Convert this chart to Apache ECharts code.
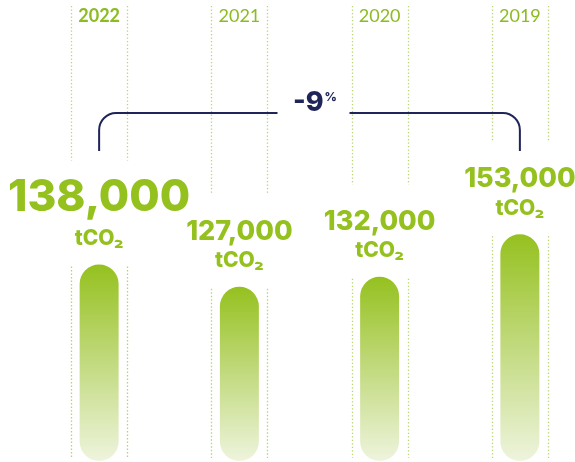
<!DOCTYPE html>
<html>
<head>
<meta charset="utf-8">
<script src="https://cdn.jsdelivr.net/npm/echarts@6/dist/echarts.min.js"></script>
<style>
  html, body { margin: 0; padding: 0; background: #ffffff; }
  #chart { width: 575px; height: 462px; }
</style>
</head>
<body>
<div id="chart"></div>
<script>
// Annual emissions, tonnes of CO2
const years = ['2022', '2021', '2020', '2019'];
const emissions = [138000, 127000, 132000, 153000];
const unitText = 'tCO₂';
// Change between the first and last year shown
const changeValue = '-9';
const changeUnit = '%';

const GREEN = '#95c11f';
const NAVY = '#1f2459';
const DOT = '#b7d56c';
const FONT = 'Inter, Lato, "Noto Sans", sans-serif';
const YEAR_FONT = 'Lato, Inter, sans-serif';

const Y_MIN = 41000;
const Y_MAX = 241000;

const chart = echarts.init(document.getElementById('chart'), null, { renderer: 'canvas' });

const fmt = v => v.toLocaleString('en-US');

// Dotted guide lines on both sides of every column
function renderGuides(params, api) {
  const i = api.value(0);
  const p = api.coord([i, api.value(1)]);
  const x = p[0];
  const barTop = p[1];
  const gap = i === 0 ? 104 : 92;
  const half = 28;
  const children = [];
  [-half, half].forEach(dx => {
    const xx = Math.round(x + dx) + 0.5;
    children.push({
      type: 'line',
      shape: { x1: xx, y1: 6, x2: xx, y2: barTop - gap },
      style: { stroke: DOT, lineWidth: 1.3, lineDash: [1.3, 2.2] },
      silent: true
    });
    children.push({
      type: 'line',
      shape: { x1: xx, y1: barTop + 2, x2: xx, y2: 458 },
      style: { stroke: DOT, lineWidth: 1.3, lineDash: [1.3, 2.2] },
      silent: true
    });
  });
  return { type: 'group', children };
}

// Bracket joining the first and last column, with the change label
function renderBracket(params, api) {
  const x0 = api.coord([api.value(0), Y_MIN])[0];
  const x1 = api.coord([api.value(1), Y_MIN])[0];
  const yTop = 113;
  const yEnd = 151;
  const r = 17;
  const k = r * 0.55;
  const mid = (x0 + x1) / 2;
  const gapL = mid - 32;
  const gapR = mid + 40;
  const d =
    'M' + x0 + ' ' + yEnd + ' L' + x0 + ' ' + (yTop + r) +
    ' C' + x0 + ' ' + (yTop + r - k) + ' ' + (x0 + r - k) + ' ' + yTop + ' ' + (x0 + r) + ' ' + yTop +
    ' L' + gapL + ' ' + yTop +
    ' M' + gapR + ' ' + yTop + ' L' + (x1 - r) + ' ' + yTop +
    ' C' + (x1 - r + k) + ' ' + yTop + ' ' + x1 + ' ' + (yTop + r - k) + ' ' + x1 + ' ' + (yTop + r) +
    ' L' + x1 + ' ' + yEnd;
  return {
    type: 'group',
    children: [
      {
        type: 'path',
        shape: { pathData: d },
        style: { stroke: NAVY, lineWidth: 2, fill: null },
        silent: true
      },
      {
        type: 'text',
        style: {
          text: changeValue,
          x: mid + 14, y: 103,
          align: 'right', verticalAlign: 'middle',
          fill: NAVY, font: '800 27px ' + FONT
        },
        silent: true
      },
      {
        type: 'text',
        style: {
          text: changeUnit,
          x: mid + 15, y: 97,
          align: 'left', verticalAlign: 'middle',
          fill: NAVY, font: '800 12px ' + FONT
        },
        silent: true
      }
    ]
  };
}

const option = {
  animation: false,
  backgroundColor: '#ffffff',
  grid: { left: 29, top: 56, width: 561, bottom: 1, containLabel: false, outerBoundsMode: 'none' },
  xAxis: {
    type: 'category',
    data: years,
    position: 'top',
    axisLine: { show: false },
    axisTick: { show: false },
    splitLine: { show: false },
    axisLabel: {
      margin: 30,
      formatter: (v, i) => (i === 0 ? '{b|' + v + '}' : '{r|' + v + '}'),
      rich: {
        b: { fontFamily: YEAR_FONT, fontWeight: 'bold', fontSize: 18, color: '#8cbb22', lineHeight: 20 },
        r: { fontFamily: YEAR_FONT, fontWeight: 'normal', fontSize: 18, color: '#8cbb22', lineHeight: 20 }
      }
    }
  },
  yAxis: { type: 'value', min: Y_MIN, max: Y_MAX, show: false },
  series: [
    {
      type: 'custom',
      renderItem: renderGuides,
      data: years.map((y, i) => [i, emissions[i]]),
      z: 1,
      silent: true
    },
    {
      type: 'bar',
      data: emissions,
      barWidth: 39,
      z: 3,
      itemStyle: {
        borderRadius: 20,
        color: new echarts.graphic.LinearGradient(0, 0, 0, 1, [
          { offset: 0, color: '#95c11f' },
          { offset: 0.5, color: '#c2da7f' },
          { offset: 1, color: '#eef4dd' }
        ])
      },
      label: {
        show: true,
        position: 'top',
        distance: 13,
        formatter: p =>
          (p.dataIndex === 0 ? '{big|' : '{v|') + fmt(p.value) + '}\n{u|' + unitText + '}',
        rich: {
          big: { fontFamily: FONT, fontWeight: 800, fontSize: 44, color: GREEN, lineHeight: 56, align: 'center' },
          v: { fontFamily: FONT, fontWeight: 800, fontSize: 27, color: GREEN, lineHeight: 32, align: 'center' },
          u: { fontFamily: FONT, fontWeight: 800, fontSize: 21, color: GREEN, lineHeight: 26, align: 'center' }
        }
      }
    },
    {
      type: 'custom',
      renderItem: renderBracket,
      data: [[0, years.length - 1]],
      z: 4,
      silent: true
    }
  ]
};

chart.setOption(option);
</script>
</body>
</html>
